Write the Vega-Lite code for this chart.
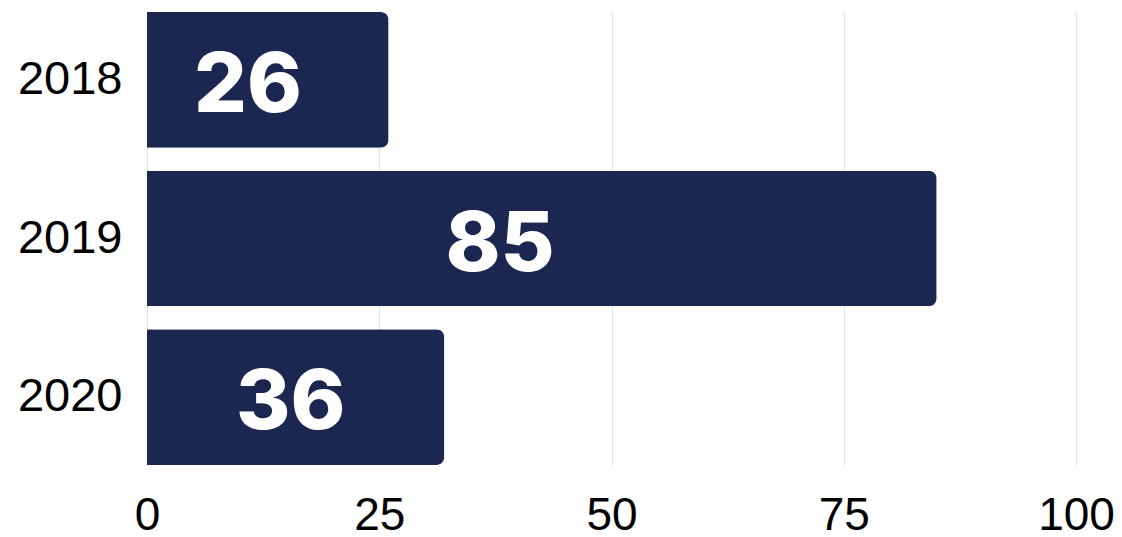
{
  "$schema": "https://vega.github.io/schema/vega-lite/v6.json",
  "width": 929,
  "height": 453,
  "autosize": "none",
  "padding": {"left": 147, "top": 12, "right": 46, "bottom": 72},
  "background": "white",
  "config": {"view": {"stroke": null}},
  "data": {"values": [
    {"year": "2018", "value": 26, "label": 26},
    {"year": "2019", "value": 85, "label": 85},
    {"year": "2020", "value": 32, "label": 36}
  ]},
  "layer": [
    {
      "mark": {"type": "bar", "color": "#1b2651", "cornerRadiusEnd": 8},
      "encoding": {
        "y": {"field": "year", "type": "nominal",
          "scale": {"paddingInner": 0.145, "paddingOuter": 0},
          "axis": {"title": null, "ticks": false, "domain": false, "labelFontSize": 47, "labelFont": "Liberation Sans", "labelColor": "#000", "labelPadding": 25}},
        "x": {"field": "value", "type": "quantitative",
          "scale": {"domain": [0, 100]},
          "axis": {"title": null, "values": [0, 25, 50, 75, 100], "ticks": false, "domain": false, "labelFontSize": 46, "labelFont": "Liberation Sans", "labelColor": "#000", "labelBaseline": "middle", "labelPadding": 50, "gridColor": "#e3e3e3", "labelFlush": false}}
      }
    },
    {
      "transform": [{"calculate": "datum.label * 0.46 - 1.1", "as": "pos"}],
      "mark": {"type": "text", "color": "white", "font": "Inter", "fontWeight": 800, "fontSize": 83, "baseline": "middle", "dy": 7},
      "encoding": {
        "y": {"field": "year", "type": "nominal"},
        "x": {"field": "pos", "type": "quantitative"},
        "text": {"field": "label"}
      }
    }
  ]
}
